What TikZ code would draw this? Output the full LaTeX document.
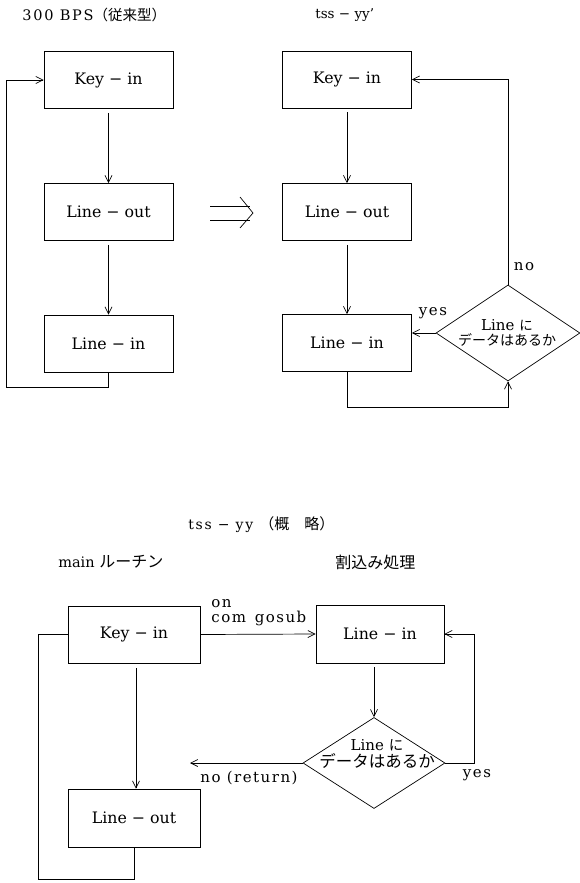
\documentclass[tikz,border=0pt]{standalone}
\usepackage{fontspec}
\setmainfont{DejaVu Serif}
\newfontfamily\boxfont{DejaVu Serif}
\newfontfamily\lblfont{DejaVu Serif}[LetterSpace=10]
\newfontfamily\ttlfont{DejaVu Serif}[LetterSpace=12]
\newfontfamily\cjk{Noto Sans CJK JP}
\usetikzlibrary{shapes.geometric,arrows.meta,calc}

% font size helper
\newcommand\fsz[1]{\fontsize{#1}{#1}\selectfont}

\begin{document}
\begin{tikzpicture}[x=1pt,y=-1pt,line width=0.7pt,
  box/.style={draw,minimum width=129pt,minimum height=57pt,inner sep=0pt,
              font=\boxfont\fsz{15.8}},
  dec/.style={draw,diamond,minimum width=144pt,minimum height=96pt,inner sep=0pt},
  dectext/.style={align=center,inner sep=0pt},
  arr/.style={-{Straight Barb[length=7pt,width=7pt,line width=0.7pt]}},
  lbl/.style={font=\lblfont\fsz{15},inner sep=0pt}]
\useasboundingbox (0,0) rectangle (579,883);

% ---------- 300 BPS: conventional loop ----------
\node[anchor=west,inner sep=0pt] (tA) at (22,15)
  {{\ttlfont\fsz{14.5}300 BPS}{\cjk\fsz{14.5}（従来型）}};
\node[box] (kA) at (108.5,80)    {Key − in};
\node[box] (lA) at (108.5,212)   {Line − out};
\node[box] (iA) at (108.5,343.5) {Line − in};
\draw[arr] (kA.south) ++(0,4) -- (lA.north);
\draw[arr] (lA.south) ++(0,4) -- (iA.north);
\coordinate (cA) at (6,387);
\draw[arr] (iA.south) |- (cA) |- (kA.west);

% ---------- transition mark ----------
\draw (210,206) -- (250,206) (210,220) -- (250,220);
\draw (240,197) -- (253,213) -- (240,228);

% ---------- tss-yy' ----------
\node[anchor=west,inner sep=0pt,font=\boxfont\fsz{13.5}] (tB) at (315,15) {tss − yy’};
\node[box] (kB) at (347,79.5) {Key − in};
\node[box] (lB) at (347,212)  {Line − out};
\node[box] (iB) at (347,343)  {Line − in};
\node[dec] (dB) at (508,333) {};
\node[dectext] (dBt) at (507,333)
  {{\boxfont\fsz{15}Line\ }{\cjk\fsz{13.5}に}\\[1pt]{\cjk\fsz{14}データはあるか}};
\draw[arr] (kB.south) ++(0,4) -- (lB.north);
\draw[arr] (lB.south) ++(0,4) -- (iB.north);
\draw[arr] (dB.north) |- (kB.east);
\draw[arr] (dB.west) -- (dB.west -| iB.east);
\draw[arr] (iB.south) -- ++(0,35) -| (dB.south);
\node[lbl] (noB) at (524,267) {no};
\node[lbl] (yesB) at (433,313) {yes};

% ---------- tss-yy outline ----------
\node[anchor=west,inner sep=0pt] (tC) at (188,525)
  {{\ttlfont\fsz{14}tss − yy\ }{\cjk\fsz{15}（概　略）}};
\node[anchor=west,inner sep=0pt] (mC) at (58,562)
  {{\boxfont\fsz{14.5}main\ }{\cjk\fsz{16}ルーチン}};
\node[anchor=west,inner sep=0pt,font=\cjk\fsz{16}] (hC) at (335,562) {割込み処理};

\node[box,minimum width=132pt] (kC) at (134,634.5) {Key − in};
\node[box,minimum width=132pt,minimum height=58pt] (oC) at (134,818) {Line − out};
\node[box,minimum width=128pt,minimum height=58pt] (iC) at (380,634) {Line − in};
\node[dec,minimum width=142pt,minimum height=91pt] (dC) at (374,763) {};
\node[dectext] (dCt) at (377,754)
  {{\boxfont\fsz{15}Line\ }{\cjk\fsz{14.5}に}\\[2pt]{\cjk\fsz{16.5}データはあるか}};

\draw[arr] ($(kC.south)+(2,5)$) -- ($(oC.north)+(2,0)$);
\coordinate (cC) at (38,879);
\draw (oC.south) |- (cC) |- (kC.west);
\draw[arr] (kC.east) -- (iC.west);
\node[lbl,anchor=north west,align=left] (gs) at (211,599)
  {\fontsize{15}{18}\selectfont on\\com\, gosub};
\draw[arr] (iC.south -| dC.north) ++(0,4) -- (dC.north);
\draw[arr] (dC.east) -- ++(29,0) |- (iC.east);
\node[lbl] (yesC) at (477,775) {yes};
\coordinate (ret) at (190,763);
\draw[arr] (dC.west) -- (ret);
\node[lbl,anchor=west] (nr) at (200,778) {no (return)};
\end{tikzpicture}
\end{document}
